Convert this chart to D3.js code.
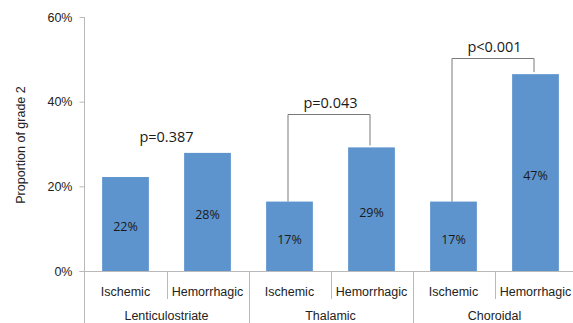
<!DOCTYPE html>
<html>
<head>
<meta charset="utf-8">
<script src="https://cdn.jsdelivr.net/npm/d3@7/dist/d3.min.js"></script>
<style>
  html, body { margin: 0; padding: 0; background: #fff; }
  svg { display: block; }
</style>
</head>
<body>
<div id="chart"></div>
<script>
// data
var groups = ['Lenticulostriate', 'Thalamic', 'Choroidal'];
var types = ['Ischemic', 'Hemorrhagic'];
var values = [22.2, 27.9, 16.4, 29.2, 16.4, 46.5];
var valueLabels = ['22%', '28%', '17%', '29%', '17%', '47%'];
var pTexts = ['p=0.387', 'p=0.043', 'p<0.001'];
var pLevels = [29.0, 37.2, 50.4];
var hasBracket = [false, true, true];
var yTicks = [0, 20, 40, 60];

var W = 573, H = 323;
var margin = {left: 84.5, right: 576.5, top: 17, bottom: 271};

var cats = [];
groups.forEach(function (g) {
    types.forEach(function (t) { cats.push(g + '|' + t); });
});

var svg = d3.select('#chart').append('svg')
    .attr('width', W).attr('height', H);

var x = d3.scaleBand().domain(cats).range([margin.left, margin.right])
    .paddingInner(0.43).paddingOuter(0.215);
var xg = d3.scaleBand().domain(groups).range([margin.left, margin.right]);
var y = d3.scaleLinear().domain([0, 60]).range([margin.bottom, margin.top]);

var axisColor = '#b9b9b9';
var font = '"Liberation Sans", Arial, sans-serif';

// y axis
var yAxis = svg.append('g')
    .attr('transform', 'translate(' + margin.left + ',0)')
    .call(d3.axisLeft(y).tickValues(yTicks).tickSize(5).tickPadding(7)
        .tickFormat(function (d) { return d + '%'; }));
yAxis.select('.domain').remove();
yAxis.selectAll('line').attr('stroke', axisColor);
yAxis.selectAll('text')
    .style('font-family', font).style('font-size', '12.5px').attr('fill', '#222');

svg.append('line')
    .attr('x1', margin.left).attr('x2', margin.left)
    .attr('y1', y(60)).attr('y2', H)
    .attr('stroke', axisColor);

svg.append('text')
    .attr('transform', 'translate(21,' + ((margin.top + margin.bottom) / 2 + 1) + ') rotate(-90)')
    .attr('text-anchor', 'middle')
    .attr('dy', '0.35em')
    .style('font-family', font).style('font-size', '12.5px')
    .attr('fill', '#222')
    .text('Proportion of grade 2');

// x axis line
svg.append('line')
    .attr('x1', margin.left - 5).attr('x2', W)
    .attr('y1', margin.bottom + 0.5).attr('y2', margin.bottom + 0.5)
    .attr('stroke', axisColor);

// separators between categories
d3.range(1, cats.length + 1).forEach(function (i) {
    var sx = Math.round(margin.left + i * x.step()) + 0.5;
    svg.append('line')
        .attr('x1', sx).attr('x2', sx)
        .attr('y1', margin.bottom).attr('y2', i % 2 === 0 ? H : margin.bottom + 28)
        .attr('stroke', axisColor);
});

// bars
svg.selectAll('.bar')
    .data(cats)
    .enter().append('rect')
    .attr('class', 'bar')
    .attr('x', function (d) { return x(d); })
    .attr('y', function (d, i) { return y(values[i]); })
    .attr('width', x.bandwidth())
    .attr('height', function (d, i) { return margin.bottom - y(values[i]); })
    .attr('fill', '#5d94cd');

svg.selectAll('.vlabel')
    .data(cats)
    .enter().append('text')
    .attr('class', 'vlabel')
    .attr('x', function (d) { return x(d) + x.bandwidth() / 2; })
    .attr('y', function (d, i) { return (y(values[i]) + margin.bottom) / 2 + 3; })
    .attr('dy', '0.35em')
    .attr('text-anchor', 'middle')
    .style('font-family', '"Open Sans", sans-serif').style('font-size', '12.5px')
    .attr('fill', '#1a1a1a')
    .text(function (d, i) { return valueLabels[i]; });

// category labels
svg.selectAll('.clabel')
    .data(cats)
    .enter().append('text')
    .attr('class', 'clabel')
    .attr('x', function (d) { return x(d) + x.bandwidth() / 2; })
    .attr('y', 295.5)
    .attr('text-anchor', 'middle')
    .style('font-family', font).style('font-size', '12.5px')
    .attr('fill', '#222')
    .text(function (d) { return d.split('|')[1]; });

svg.selectAll('.glabel')
    .data(groups)
    .enter().append('text')
    .attr('class', 'glabel')
    .attr('x', function (d) { return xg(d) + xg.bandwidth() / 2; })
    .attr('y', 320)
    .attr('text-anchor', 'middle')
    .style('font-family', font).style('font-size', '12.5px')
    .attr('fill', '#222')
    .text(function (d) { return d; });

// brackets and p values
groups.forEach(function (g, gi) {
    var a = g + '|' + types[0], b = g + '|' + types[1];
    var xa = x(a) + x.bandwidth() / 2 - 1.5, xb = x(b) + x.bandwidth() / 2 - 1.5;
    var ly = Math.round(y(pLevels[gi])) + 0.5;
    if (hasBracket[gi]) {
        svg.append('path')
            .attr('d', 'M' + xa + ',' + y(values[gi * 2]) + 'V' + ly + 'H' + xb + 'V' + (y(values[gi * 2 + 1]) - 2))
            .attr('fill', 'none')
            .attr('stroke', '#7a7a7a');
    }
    svg.append('text')
        .attr('x', xg(g) + xg.bandwidth() / 2)
        .attr('y', ly - 7)
        .attr('text-anchor', 'middle')
        .style('font-family', '"Open Sans", sans-serif').style('font-size', '14.5px')
        .attr('fill', '#1a1a1a')
        .text(pTexts[gi]);
});
</script>
</body>
</html>
